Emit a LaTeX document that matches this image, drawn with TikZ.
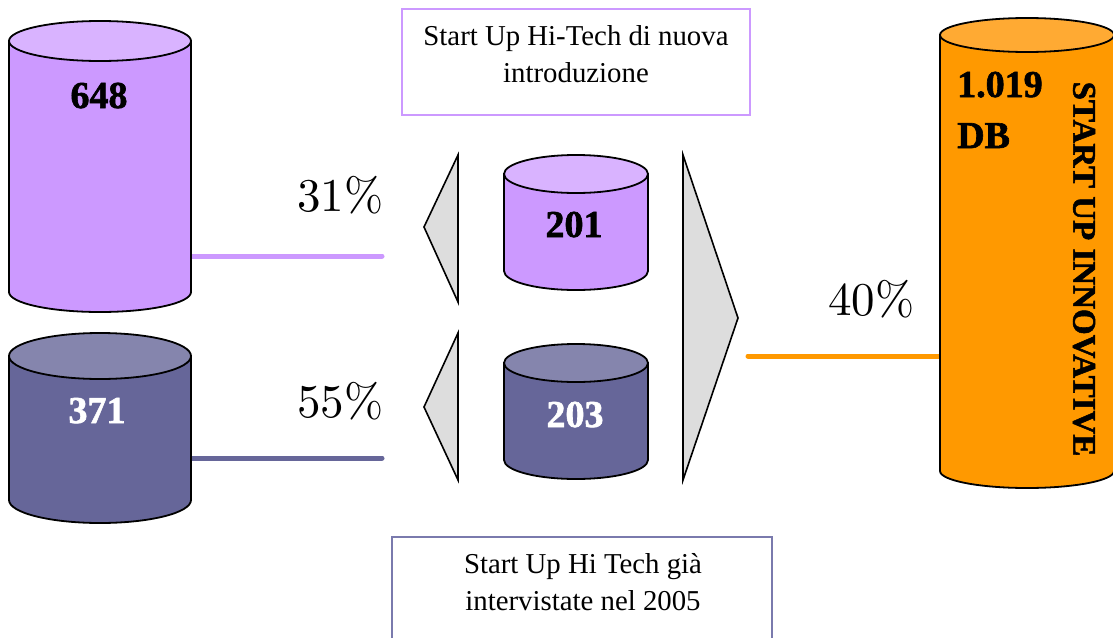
\documentclass[tikz,border=0pt]{standalone}
\usepackage{fontspec}
\newfontfamily\labelserif{Liberation Serif}
\newfontfamily\heavyserif[FakeBold=1.6]{Liberation Serif Bold}
\newfontfamily\pctfont{lmroman10-regular.otf}
\usetikzlibrary{positioning}

\definecolor{lilacbody}{HTML}{CC99FF}
\definecolor{lilactop}{HTML}{D9B3FF}
\definecolor{slatebody}{HTML}{666699}
\definecolor{slatetop}{HTML}{8585AD}
\definecolor{orangebody}{HTML}{FF9900}
\definecolor{orangetop}{HTML}{FFAA33}
\definecolor{arrowgray}{HTML}{DDDDDD}
\definecolor{slateframe}{HTML}{7A7AAD}

% drum: left x, right x, top centre y, bottom centre y, half height of the ends, body colour, top colour
\newcommand\drumshape[7]{%
  \pgfmathsetmacro\drumrx{(#2-#1)/2}%
  \pgfmathsetmacro\drumcx{(#1+#2)/2}%
  \filldraw[fill=#6, drumline] (#1,#3) -- (#1,#4)
    arc[start angle=180, end angle=0, x radius=\drumrx, y radius=#5] -- (#2,#3) -- cycle;
  \filldraw[fill=#7, drumline] (\drumcx,#3) ellipse[x radius=\drumrx, y radius=#5];
}

\begin{document}
\begin{tikzpicture}[x=1pt, y=-1pt,
  drumline/.style={draw=black, line width=1.8pt},
  wedge/.style={fill=arrowgray, draw=black, line width=1.6pt, line join=miter},
  link/.style={line width=5pt, line cap=round},
  bignum/.style={font=\heavyserif\fontsize{38}{40}\selectfont, inner sep=0pt, anchor=base},
  percent/.style={font=\pctfont\fontsize{47}{47}\selectfont, inner sep=0pt, anchor=base west},
  frame/.style={draw, line width=1.8pt, fill=white},
  frametext/.style={font=\labelserif\fontsize{28.8}{34}\selectfont, inner sep=0pt, anchor=base},
]
\clip (0,0) rectangle (1113,637);
\fill[white] (0,0) rectangle (1113,637);

% connectors between the drums and the percentages
\coordinate (lilacside) at (191,256);
\coordinate (lilacend)  at (382,256);
\coordinate (slateside) at (191,458);
\coordinate (slateend)  at (382,458);
\coordinate (orangeend)  at (748,356);
\coordinate (orangeside) at (940,356);
\draw[link, draw=lilacbody]  (lilacside) -- (lilacend);
\draw[link, draw=slatebody]  (slateside) -- (slateend);
\draw[link, draw=orangebody] (orangeend) -- (orangeside);

% drums
\drumshape{9}{191}{41}{292}{20}{lilacbody}{lilactop}
\drumshape{9}{191}{356}{500}{23}{slatebody}{slatetop}
\drumshape{504}{648}{174}{271}{19}{lilacbody}{lilactop}
\drumshape{504}{648}{363}{460}{19}{slatebody}{slatetop}
\drumshape{940}{1114}{35}{471}{17}{orangebody}{orangetop}

% wedges
\filldraw[wedge] (458,155) -- (424,227) -- (458,302) -- cycle;
\filldraw[wedge] (458,333) -- (424,407) -- (458,480) -- cycle;
\filldraw[wedge] (683,155) -- (738,318) -- (683,480) -- cycle;

% drum labels
\node[bignum] (n648) at (99,108) {648};
\node[bignum, text=white] (n371) at (97,423) {371};
\node[bignum] (n201) at (574,237) {201};
\node[bignum, text=white] (n203) at (575,427) {203};
\node[bignum, anchor=base west] (n1019) at (957,97) {1.019};
\node[bignum, anchor=base west] (ndb) at (957,148) {DB};
\node[font=\heavyserif\fontsize{33}{35}\selectfont, inner sep=0pt, rotate=-90]
  (innov) at (1084,269) {START UP INNOVATIVE};

% percentages
\node[percent] (p31) at (297,211) {31\%};
\node[percent] (p55) at (297,417) {55\%};
\node[percent] (p40) at (828,315) {40\%};

% caption frames
\node[frame, draw=lilacbody, minimum width=348pt, minimum height=106pt] (newframe) at (576,62) {};
\node[frametext] (newA) at (576,45) {Start Up Hi-Tech di nuova};
\node[frametext] (newB) at (576,82) {introduzione};
\node[frame, draw=slateframe, minimum width=380pt, minimum height=120pt] (oldframe) at (582,597) {};
\node[frametext] (oldA) at (583,573) {Start Up Hi Tech già};
\node[frametext] (oldB) at (583,610) {intervistate nel 2005};
\end{tikzpicture}
\end{document}
